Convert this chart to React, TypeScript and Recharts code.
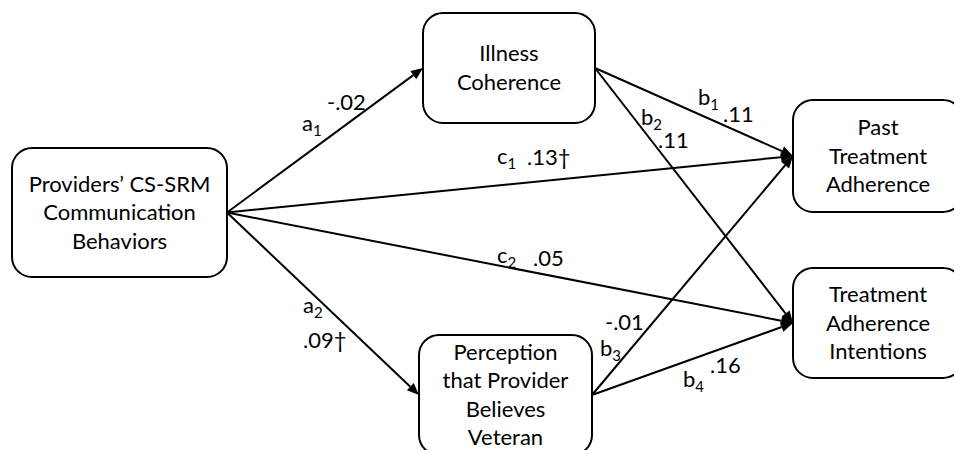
import { ScatterChart, XAxis, YAxis, Scatter, ReferenceLine } from 'recharts';

// nodes of the path model (centre of each box, in diagram units = px)
const nodeLines = [
  ['Providers’ CS-SRM', 'Communication', 'Behaviors'],
  ['Illness', 'Coherence'],
  ['Perception', 'that Provider', 'Believes', 'Veteran'],
  ['Past', 'Treatment', 'Adherence'],
  ['Treatment', 'Adherence', 'Intentions'],
];
const nodeX = [119.5, 509, 505.5, 878, 878];
const nodeY = [212.5, 68, 395, 156, 323];

// paths: from -> to, name and coefficient
const pathFrom = [0, 0, 0, 0, 1, 1, 2, 2];
const pathTo = [1, 2, 3, 4, 3, 4, 3, 4];
const pathLetter = ['a', 'a', 'c', 'c', 'b', 'b', 'b', 'b'];
const pathSub = ['1', '2', '1', '2', '1', '2', '3', '4'];
const pathCoef = ['-.02', '.09†', '.13†', '.05', '.11', '.11', '-.01', '.16'];

// layout
const W = 954;
const H = 450;
const FONT = 'Lato, "Open Sans", sans-serif';
const boxSize = [[215, 129], [172, 110], [173, 120], [170, 112], [170, 110]];
const letterPos = [[302, 131], [303, 313], [497, 164], [497, 263], [698, 105], [641, 125], [600, 356], [683, 387]];
const coefPos = [[327, 110], [303, 348], [527, 165], [533, 266], [723, 122], [658, 148], [605, 330], [710, 373]];

const nodes = nodeX.map((x, i) => ({ x, y: nodeY[i], i }));
const letters = letterPos.map(([x, y], i) => ({ x, y, i }));
const coefs = coefPos.map(([x, y], i) => ({ x, y, i }));

const edges = pathFrom.map((f, k) => {
  const t = pathTo[k];
  return [
    { x: nodeX[f] + boxSize[f][0] / 2, y: nodeY[f] },
    { x: nodeX[t] - boxSize[t][0] / 2, y: nodeY[t] },
  ];
});

const ArrowLine = (props: any) => {
  const { x1, y1, x2, y2 } = props;
  const dx = x2 - x1;
  const dy = y2 - y1;
  const len = Math.hypot(dx, dy);
  const ux = dx / len;
  const uy = dy / len;
  const L = 12;
  const hw = 5;
  const bx = x2 - ux * L;
  const by = y2 - uy * L;
  const pts = `${x2},${y2} ${bx - uy * hw},${by + ux * hw} ${bx + uy * hw},${by - ux * hw}`;
  return (
    <g>
      <line x1={x1} y1={y1} x2={bx} y2={by} stroke="#000" strokeWidth={2} />
      <polygon points={pts} fill="#000" />
    </g>
  );
};

const NodeBox = (props: any) => {
  const { cx, cy, payload } = props;
  const [w, h] = boxSize[payload.i];
  const lines = nodeLines[payload.i];
  const lh = 28.5;
  return (
    <g>
      <rect x={cx - w / 2} y={cy - h / 2} width={w} height={h} rx={20} ry={20}
        fill="#fff" stroke="#000" strokeWidth={2} />
      {lines.map((s, j) => (
        <text key={j} x={cx} y={cy + (j - (lines.length - 1) / 2) * lh} dy="0.35em"
          textAnchor="middle" fontFamily={FONT} fontSize={22} fill="#000">{s}</text>
      ))}
    </g>
  );
};

const PathName = (props: any) => {
  const { cx, cy, payload } = props;
  return (
    <text x={cx} y={cy} fontFamily={FONT} fontSize={22} fill="#000">
      {pathLetter[payload.i]}
      <tspan fontSize={15} dy={5}>{pathSub[payload.i]}</tspan>
    </text>
  );
};

const PathCoef = (props: any) => {
  const { cx, cy, payload } = props;
  return (
    <text x={cx} y={cy} fontFamily={FONT} fontSize={22} fill="#000">{pathCoef[payload.i]}</text>
  );
};

export default function App() {
  return (
    <div style={{ position: 'absolute', left: 0, top: 0, background: '#fff' }}>
      <ScatterChart width={W} height={H} margin={{ top: 0, right: 0, bottom: 0, left: 0 }}>
        <XAxis type="number" dataKey="x" domain={[0, W]} hide />
        <YAxis type="number" dataKey="y" domain={[0, H]} reversed hide />
        {edges.map((seg, k) => (
          <ReferenceLine key={k} segment={seg} shape={ArrowLine} ifOverflow="visible" />
        ))}
        <Scatter data={nodes} shape={NodeBox} isAnimationActive={false} />
        <Scatter data={letters} shape={PathName} isAnimationActive={false} />
        <Scatter data={coefs} shape={PathCoef} isAnimationActive={false} />
      </ScatterChart>
    </div>
  );
}
